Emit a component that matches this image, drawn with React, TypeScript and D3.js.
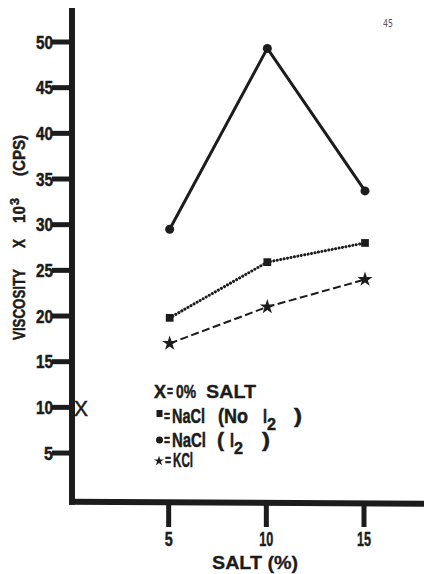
import * as d3 from "d3";
import type { ReactNode } from "react";

// salt concentration (%) on the x axis
const saltPct = [5, 10, 15];
// viscosity x 10^3 (cps)
const naclIodine = [29.5, 49.3, 33.7];
const naclNoIodine = [19.8, 25.9, 28.0];
const kcl = [17.0, 21.0, 24.0];
// control, 0% salt
const controlValue = 10;

const yTicks = [5, 10, 15, 20, 25, 30, 35, 40, 45, 50];
const xTicks = [5, 10, 15];

const W = 424;
const H = 574;
const FONT = "'Liberation Sans', Arial, sans-serif";
const INK = "#1c1c1c";

// condensed lettering: glyphs are squeezed into a fixed width
function T(props: {
  x: number;
  y: number;
  size: number;
  w: number;
  rotate?: number;
  anchor?: string;
  weight?: string;
  heavy?: number;
  children: ReactNode;
}) {
  const { x, y, size, w, rotate = 0, anchor = "start", weight = "bold", heavy = 0.5 } = props;
  return (
    <text
      transform={`translate(${x},${y}) rotate(${rotate})`}
      textAnchor={anchor}
      fontSize={size}
      fontWeight={weight}
      textLength={w}
      lengthAdjust="spacingAndGlyphs"
      fill={INK}
      stroke={INK}
      strokeWidth={heavy}
    >
      {props.children}
    </text>
  );
}

export default function App() {
  const x = d3.scaleLinear().domain([0, 15]).range([72, 365]);
  const y = d3.scaleLinear().domain([0, 50]).range([498.7, 42]);
  const origin = { x: x(0), y: y(0) + 3 };

  const line = d3
    .line<number>()
    .x((_, i) => x(saltPct[i]))
    .y((d) => y(d));

  const star = d3.symbol(d3.symbolStar, 70)();
  const square = d3.symbol(d3.symbolSquare, 60)();

  return (
    <svg
      width={W}
      height={H}
      style={{ position: "absolute", left: 0, top: 0, background: "#fff" }}
      fontFamily={FONT}
    >
      <text
        x={383}
        y={27}
        fontSize={10}
        fill="#555"
        textLength={10}
        lengthAdjust="spacingAndGlyphs"
        fontFamily="'DejaVu Sans', sans-serif"
      >
        45
      </text>

      {/* y axis */}
      <line x1={origin.x} x2={origin.x} y1={8} y2={origin.y + 3} stroke={INK} strokeWidth={6} />
      {yTicks.map((t) => (
        <g key={t}>
          <line x1={52} x2={origin.x} y1={y(t)} y2={y(t)} stroke={INK} strokeWidth={5} />
          <T x={53} y={y(t) + 6.5} size={18} w={t < 10 ? 9 : 17} anchor="end">
            {t}
          </T>
        </g>
      ))}
      {/* rotated axis title, pieces spaced as in the original */}
      <T x={25} y={340} size={17} w={71} rotate={-90}>VISCOSITY</T>
      <T x={25} y={248} size={17} w={9} rotate={-90}>X</T>
      <T x={25} y={223} size={17} w={17} rotate={-90}>10</T>
      <T x={19} y={205} size={12} w={7} rotate={-90}>3</T>
      <T x={25} y={176} size={17} w={41} rotate={-90}>(CPS)</T>

      {/* x axis */}
      <line x1={origin.x - 3} x2={W} y1={origin.y} y2={origin.y + 2} stroke={INK} strokeWidth={6} />
      {xTicks.map((t) => (
        <g key={t}>
          <line x1={x(t) - 1} x2={x(t) - 1} y1={origin.y} y2={527} stroke={INK} strokeWidth={5} />
          <T x={x(t) - 1} y={546} size={20} w={t < 10 ? 8 : 14} anchor="middle">
            {t}
          </T>
        </g>
      ))}
      <T x={212} y={569} size={18} w={86} heavy={0.3}>SALT  (%)</T>

      {/* control point */}
      <T x={x(0) + 9} y={y(controlValue) + 9} size={22} w={14} anchor="middle" weight="normal">
        X
      </T>

      {/* NaCl with iodine: solid line, circles */}
      <path d={line(naclIodine) ?? ""} fill="none" stroke={INK} strokeWidth={3} />
      {naclIodine.map((v, i) => (
        <circle key={i} cx={x(saltPct[i])} cy={y(v)} r={4.5} fill={INK} />
      ))}

      {/* NaCl, no iodine: dotted line, squares */}
      <path
        d={line(naclNoIodine) ?? ""}
        fill="none"
        stroke={INK}
        strokeWidth={3}
        strokeDasharray="0.1 3.4"
        strokeLinecap="round"
      />
      {naclNoIodine.map((v, i) => (
        <path key={i} d={square ?? ""} transform={`translate(${x(saltPct[i])},${y(v)})`} fill={INK} />
      ))}

      {/* KCl: dashed line, stars */}
      <path d={line(kcl) ?? ""} fill="none" stroke={INK} strokeWidth={2} strokeDasharray="8 3.5" />
      {kcl.map((v, i) => (
        <path key={i} d={star ?? ""} transform={`translate(${x(saltPct[i])},${y(v)})`} fill={INK} />
      ))}

      {/* legend */}
      <g fill={INK}>
        <T x={154} y={398} size={19} w={12}>X</T>
        <T x={167} y={397} size={17} w={6}>=</T>
        <T x={176} y={398} size={19} w={20}>0%</T>
        <T x={206} y={398} size={19} w={50} heavy={0.3}>SALT</T>

        <rect x={156.5} y={410} width={6} height={7} />
        <T x={164} y={422} size={17} w={6}>=</T>
        <T x={172} y={423} size={20} w={33}>NaCl</T>
        <T x={218} y={423} size={20} w={30}>(No</T>
        <T x={263} y={423} size={20} w={4}>I</T>
        <T x={267} y={430} size={17} w={9}>2</T>
        <T x={294} y={423} size={20} w={8}>)</T>

        <circle cx={159.5} cy={440} r={3.5} />
        <T x={164} y={446} size={17} w={6}>=</T>
        <T x={172} y={447} size={20} w={34}>NaCl</T>
        <T x={217} y={447} size={20} w={7}>(</T>
        <T x={230} y={447} size={20} w={4}>I</T>
        <T x={234} y={454} size={17} w={9}>2</T>
        <T x={262} y={447} size={20} w={8}>)</T>

        <path d={d3.symbol(d3.symbolStar, 30)() ?? ""} transform="translate(159,461)" />
        <T x={165} y={466} size={17} w={6}>=</T>
        <T x={173} y={467} size={20} w={20}>KCl</T>
      </g>
    </svg>
  );
}
